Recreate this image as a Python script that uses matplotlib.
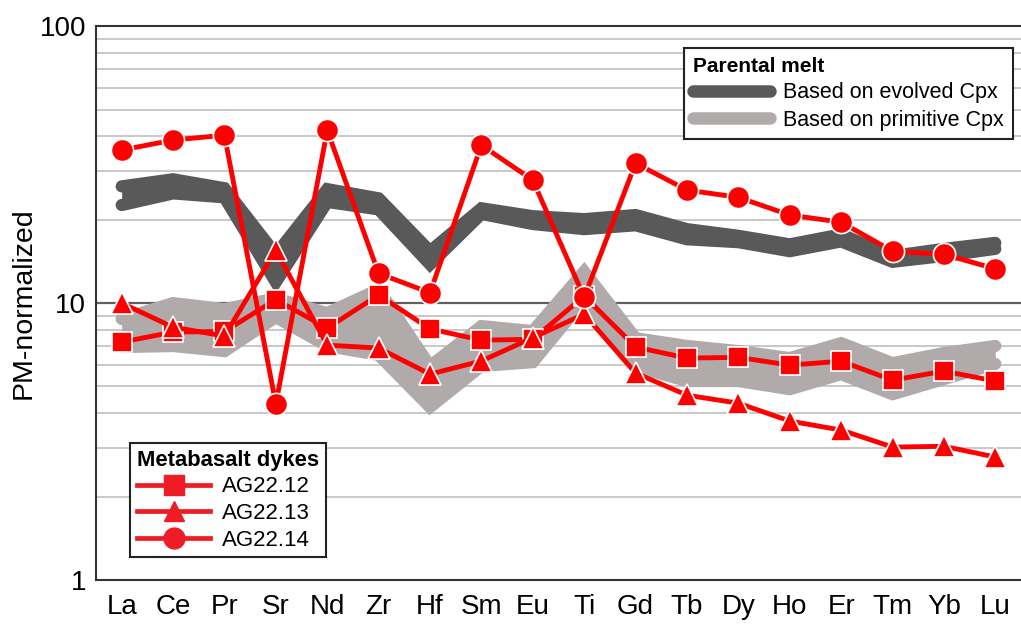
import matplotlib
matplotlib.use("Agg")
import matplotlib.pyplot as plt
from matplotlib.lines import Line2D
from matplotlib.ticker import NullFormatter, FixedLocator, FixedFormatter

plt.rcParams['font.family'] = ['Liberation Sans', 'DejaVu Sans']

elements = ["La", "Ce", "Pr", "Sr", "Nd", "Zr", "Hf", "Sm", "Eu", "Ti",
            "Gd", "Tb", "Dy", "Ho", "Er", "Tm", "Yb", "Lu"]

evolved_upper = [26.4, 28.0, 26.0, 15.0, 25.8, 23.9, 15.4, 22.0, 20.6, 20.1,
                 20.8, 18.5, 17.5, 16.3, 17.7, 14.8, 15.7, 16.5]
evolved_lower = [22.6, 24.9, 24.1, 11.9, 23.2, 21.8, 13.8, 21.0, 19.3, 18.5,
                 19.1, 17.0, 16.6, 15.4, 16.7, 14.1, 14.8, 15.7]

primitive_upper = [8.76, 10.0, 9.51, 10.4, 9.2, 11.2, 5.92, 8.26, 7.92, 13.0,
                   7.47, 7.0, 6.71, 6.33, 7.17, 6.07, 6.6, 7.0]
primitive_lower = [6.94, 7.0, 6.71, 8.9, 7.0, 6.5, 4.21, 5.93, 6.12, 10.3,
                   5.9, 5.23, 5.23, 4.89, 5.54, 4.69, 5.32, 6.03]

ag22_12 = [7.23, 7.86, 7.9, 10.3, 8.12, 10.7, 8.07, 7.35, 7.4, 10.6,
           6.94, 6.33, 6.37, 5.97, 6.17, 5.27, 5.68, 5.23]
ag22_13 = [10.0, 8.19, 7.6, 15.5, 7.05, 6.88, 5.54, 6.18, 7.5, 9.12,
           5.59, 4.65, 4.35, 3.75, 3.48, 3.02, 3.04, 2.78]
ag22_14 = [35.7, 38.8, 40.4, 4.32, 42.1, 12.8, 10.9, 37.2, 27.8, 10.5,
           32.0, 25.6, 24.1, 20.8, 19.6, 15.4, 15.0, 13.3]

x = list(range(len(elements)))

DARK = "#595959"
LIGHT = "#b0abaa"
RED = "#ff0000"

fig = plt.figure(figsize=(10.21, 6.24), dpi=100)
ax = fig.add_axes([0.094, 0.0705, 0.906, 0.8875])
ax.set_yscale("log")
ax.set_ylim(1, 100)
ax.set_xlim(-0.5, len(elements) - 0.5)

# grid lines
minor_vals = [v * d for d in (1, 10) for v in range(2, 10)]
for v in minor_vals:
    ax.axhline(v, color="#c4c4c4", lw=1.3, zorder=0)
ax.axhline(10, color="#606060", lw=1.6, zorder=0)

band_lw = 8.8
# evolved (dark) band
ax.fill_between(x, evolved_lower, evolved_upper, color=DARK, lw=0, zorder=1)
for arr in (evolved_upper, evolved_lower):
    ax.plot(x, arr, color=DARK, lw=band_lw, solid_capstyle="round",
            solid_joinstyle="miter", zorder=1)
# primitive (light) band
ax.fill_between(x, primitive_lower, primitive_upper, color=LIGHT, lw=0, zorder=1)
for arr in (primitive_upper, primitive_lower):
    ax.plot(x, arr, color=LIGHT, lw=band_lw, solid_capstyle="round",
            solid_joinstyle="miter", zorder=1)

lw_red = 3.5
ax.plot(x, ag22_12, color=RED, lw=lw_red, marker="s", ms=14.5,
        mec="white", mew=1.2, zorder=3)
ax.plot(x, ag22_13, color=RED, lw=lw_red, marker="^", ms=16,
        mec="white", mew=1.2, zorder=4)
ax.plot(x, ag22_14, color=RED, lw=lw_red, marker="o", ms=16,
        mec="white", mew=1.2, zorder=5)

# axes styling
for s in ("left", "bottom", "top"):
    ax.spines[s].set_color("#333333")
    ax.spines[s].set_linewidth(1.5)
ax.spines["right"].set_visible(False)
ax.yaxis.set_major_locator(FixedLocator([1, 10, 100]))
ax.yaxis.set_major_formatter(FixedFormatter(["1", "10", "100"]))
ax.yaxis.set_minor_locator(FixedLocator([]))
ax.yaxis.set_minor_formatter(NullFormatter())
ax.tick_params(axis="y", length=0, labelsize=20, pad=7)
ax.set_xticks(x)
ax.set_xticklabels(elements)
ax.tick_params(axis="x", length=0, labelsize=20, pad=10)
ax.set_ylabel("PM-normalized", fontsize=20.5, labelpad=2)

# legend: parental melt
h1 = [Line2D([0], [0], color=DARK, lw=9, solid_capstyle="round"),
      Line2D([0], [0], color=LIGHT, lw=9, solid_capstyle="round")]
leg1 = ax.legend(h1, ["Based on evolved Cpx", "Based on primitive Cpx"],
                 title="Parental melt", loc="upper right",
                 bbox_to_anchor=(0.991, 0.960), borderaxespad=0,
                 fontsize=15.5, title_fontproperties={"weight": "bold", "size": 15},
                 handlelength=3.6, handletextpad=0.6, labelspacing=0.3,
                 fancybox=False, framealpha=1, edgecolor="#222222",
                 alignment="left", borderpad=0.4)
leg1.get_frame().set_linewidth(1.5)
ax.add_artist(leg1)

# legend: metabasalt dykes
LRED = "#ee1c25"
h2 = [Line2D([0], [0], color=LRED, lw=3.4, marker="s", ms=14, mec=LRED),
      Line2D([0], [0], color=LRED, lw=3.4, marker="^", ms=15, mec=LRED),
      Line2D([0], [0], color=LRED, lw=3.4, marker="o", ms=15, mec=LRED)]
leg2 = ax.legend(h2, ["AG22.12", "AG22.13", "AG22.14"],
                 title="Metabasalt dykes", loc="upper left",
                 bbox_to_anchor=(0.037, 0.247), borderaxespad=0,
                 fontsize=16, title_fontproperties={"weight": "bold", "size": 15.8},
                 handlelength=3.3, handletextpad=0.55, labelspacing=0.25,
                 fancybox=False, framealpha=1, edgecolor="#222222",
                 alignment="left", borderpad=0.3)
leg2.get_frame().set_linewidth(1.5)
leg2.set_zorder(10)
leg1.set_zorder(10)

fig.savefig("out.png", dpi=100)
